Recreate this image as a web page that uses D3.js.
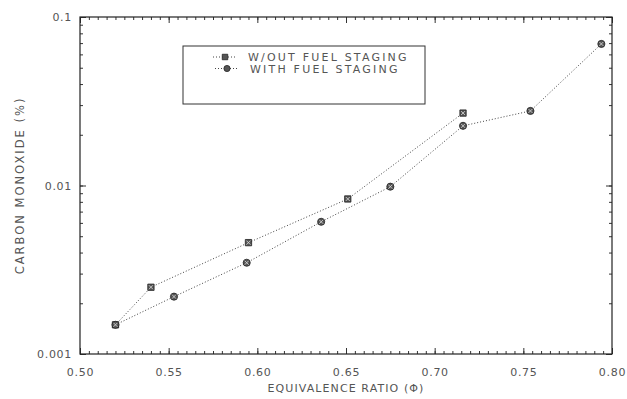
<!DOCTYPE html>
<html><head><meta charset="utf-8">
<script src="https://cdn.jsdelivr.net/npm/d3@7"></script>
<style>
html,body{margin:0;padding:0;background:#fff;}
svg{display:block;}
text{font-family:"DejaVu Sans",sans-serif;fill:#555;}
</style></head>
<body>
<script>
// ---- data ----
const seriesNames = ["W/OUT FUEL STAGING", "WITH FUEL STAGING"];
const woutX = [0.520, 0.540, 0.595, 0.651, 0.716];
const woutY = [0.00149, 0.00249, 0.00458, 0.00832, 0.0269];
const withX = [0.520, 0.553, 0.594, 0.636, 0.675, 0.716, 0.754, 0.794];
const withY = [0.00149, 0.00219, 0.00348, 0.00609, 0.00984, 0.0226, 0.0277, 0.0692];
const xTicks = [0.50, 0.55, 0.60, 0.65, 0.70, 0.75, 0.80];
const yTicks = [0.001, 0.01, 0.1];
const xLabel = "EQUIVALENCE RATIO (Φ)";
const yLabel = "CARBON MONOXIDE (%)";

// ---- layout ----
const W = 627, H = 399;
const m = {l: 80, r: 15, t: 17, b: 45};
const iw = W - m.l - m.r, ih = H - m.t - m.b;

const svg = d3.select("body").append("svg").attr("width", W).attr("height", H);
const g = svg.append("g").attr("transform", `translate(${m.l},${m.t})`);

const x = d3.scaleLinear().domain([0.50, 0.80]).range([0, iw]);
const y = d3.scaleLog().domain([0.001, 0.1]).range([ih, 0]);

// minor tick values
const xMinor = d3.range(0.50, 0.8001, 0.005);
const yMinor = [];
[0.001, 0.01].forEach(d => { for (let k = 1; k < 10; k++) yMinor.push(d * k); });
yMinor.push(0.1);

const axisColor = "#333";
function styleAxis(sel) {
  sel.select(".domain").remove();
  sel.selectAll("line").attr("stroke", axisColor).attr("stroke-width", 1);
}

// bottom axis: labels + major ticks (inward)
g.append("g").attr("transform", `translate(0,${ih})`)
  .call(d3.axisBottom(x).tickValues(xTicks).tickFormat(d3.format(".2f")).tickSizeInner(-6).tickPadding(14))
  .call(styleAxis)
  .call(s => s.selectAll("text").attr("font-size", 11).attr("fill", "#555").attr("letter-spacing", 0.7));
g.append("g").attr("transform", `translate(0,${ih})`)
  .call(d3.axisBottom(x).tickValues(xMinor).tickFormat("").tickSizeInner(-3).tickSizeOuter(0))
  .call(styleAxis);
// top axis ticks
g.append("g")
  .call(d3.axisTop(x).tickValues(xTicks).tickFormat("").tickSizeInner(-6).tickSizeOuter(0))
  .call(styleAxis);
g.append("g")
  .call(d3.axisTop(x).tickValues(xMinor).tickFormat("").tickSizeInner(-3).tickSizeOuter(0))
  .call(styleAxis);

// left axis
g.append("g")
  .call(d3.axisLeft(y).tickValues(yTicks).tickFormat(d => String(d)).tickSizeInner(-6).tickPadding(8).tickSizeOuter(0))
  .call(styleAxis)
  .call(s => s.selectAll("text").attr("font-size", 11).attr("fill", "#555").attr("letter-spacing", 0.7));
g.append("g")
  .call(d3.axisLeft(y).tickValues(yMinor).tickFormat("").tickSizeInner(-3).tickSizeOuter(0))
  .call(styleAxis);
// right axis ticks
g.append("g").attr("transform", `translate(${iw},0)`)
  .call(d3.axisRight(y).tickValues(yTicks).tickFormat("").tickSizeInner(-6).tickSizeOuter(0))
  .call(styleAxis);
g.append("g").attr("transform", `translate(${iw},0)`)
  .call(d3.axisRight(y).tickValues(yMinor).tickFormat("").tickSizeInner(-3).tickSizeOuter(0))
  .call(styleAxis);

// frame
g.append("rect").attr("x", 0).attr("y", 0).attr("width", iw).attr("height", ih)
  .attr("fill", "none").attr("stroke", "#222").attr("stroke-width", 1.2);

// axis titles
svg.append("text").attr("x", m.l + iw / 2).attr("y", 392)
  .attr("text-anchor", "middle").attr("font-size", 11).attr("letter-spacing", 1.1).text(xLabel);
svg.append("text").attr("transform", `translate(24,${m.t + ih / 2}) rotate(-90)`)
  .attr("text-anchor", "middle").attr("font-size", 11.5).attr("letter-spacing", 2).text(yLabel);

// series
const series = [
  {name: seriesNames[0], xs: woutX, ys: woutY, sym: d3.symbolSquare},
  {name: seriesNames[1], xs: withX, ys: withY, sym: d3.symbolCircle}
];
const line = d3.line().x(d => x(d[0])).y(d => y(d[1]));
series.forEach(s => {
  const pts = s.xs.map((v, i) => [v, s.ys[i]]);
  g.append("path").datum(pts).attr("d", line)
    .attr("fill", "none").attr("stroke", "#444").attr("stroke-width", 1).attr("stroke-dasharray", "1,2");
  g.selectAll(null).data(pts).enter().append("path")
    .attr("transform", d => `translate(${x(d[0])},${y(d[1])})`)
    .attr("d", d3.symbol().type(s.sym).size(40))
    .attr("fill", "#555").attr("stroke", "#222").attr("stroke-width", 0.8);
  g.selectAll(null).data(pts).enter().append("path")
    .attr("transform", d => `translate(${x(d[0])},${y(d[1])})`)
    .attr("d", "M-2,-2L2,2M-2,2L2,-2")
    .attr("stroke", "#ddd").attr("stroke-width", 0.8);
});

// legend
const lg = svg.append("g");
lg.append("rect").attr("x", 183).attr("y", 46).attr("width", 242).attr("height", 58)
  .attr("fill", "#fff").attr("stroke", "#333").attr("stroke-width", 1);
series.forEach((s, i) => {
  const yy = 57 + i * 11.5;
  const x0 = 213 + i * 2;
  lg.append("line").attr("x1", x0).attr("x2", x0 + 24).attr("y1", yy).attr("y2", yy)
    .attr("stroke", "#444").attr("stroke-dasharray", "1,2");
  lg.append("path").attr("transform", `translate(${x0 + 12},${yy})`)
    .attr("d", d3.symbol().type(s.sym).size(30)).attr("fill", "#555").attr("stroke", "#222").attr("stroke-width", 0.8);
  lg.append("text").attr("x", x0 + 35).attr("y", yy + 4).attr("font-size", 11)
    .attr("letter-spacing", 2.2).text(s.name);
});
</script>
</body></html>
